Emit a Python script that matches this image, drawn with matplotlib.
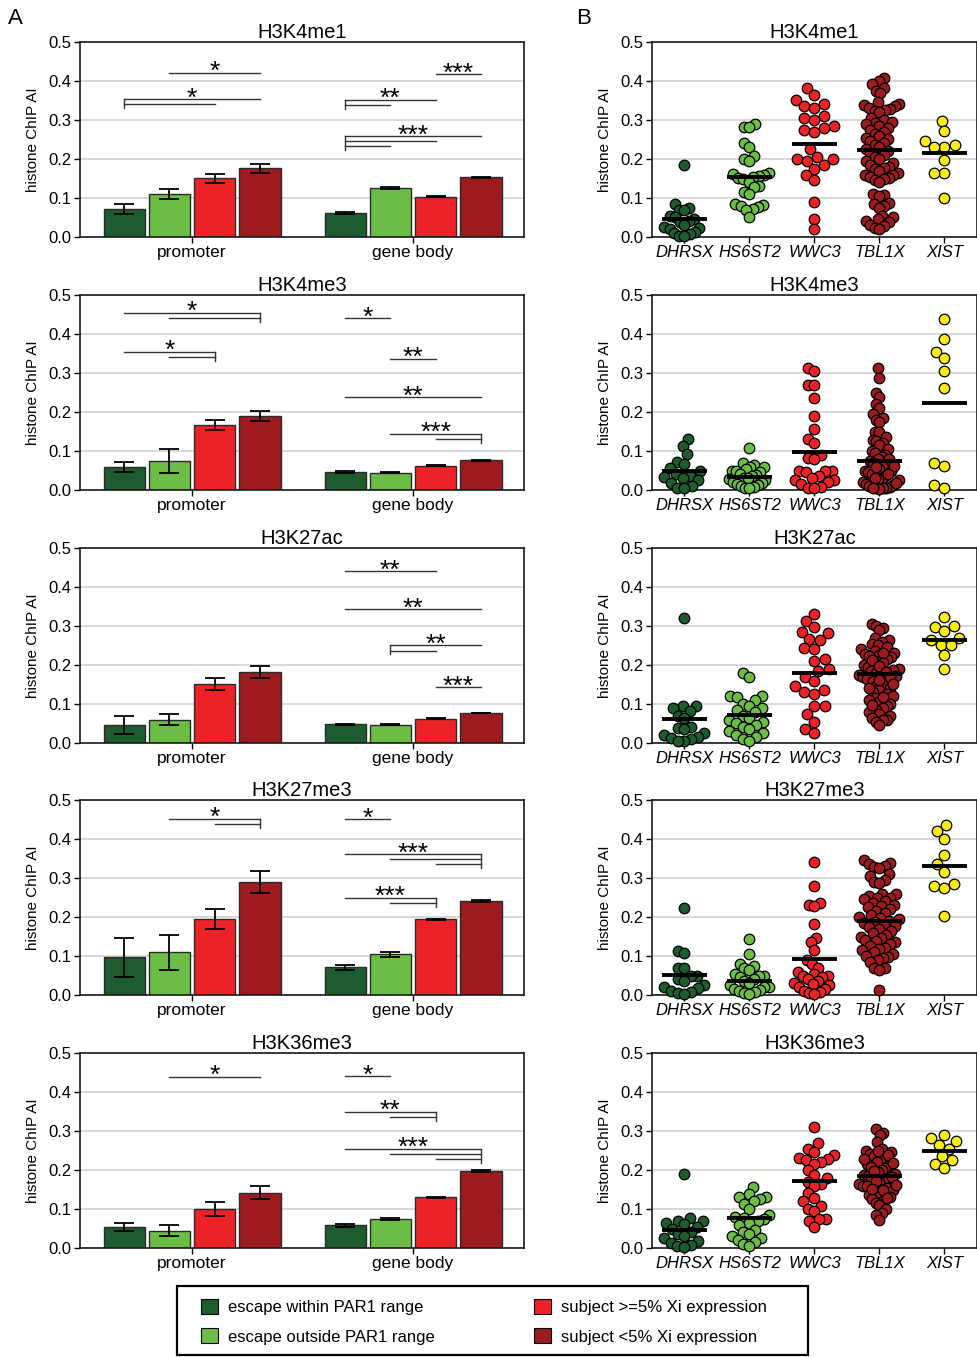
import numpy as np
import matplotlib
matplotlib.use('Agg')
import matplotlib.pyplot as plt
from matplotlib.patches import Patch, Rectangle

plt.rcParams['font.family'] = ['Liberation Sans', 'DejaVu Sans']

# ---------------- data ----------------
marks = ['H3K4me1', 'H3K4me3', 'H3K27ac', 'H3K27me3', 'H3K36me3']
regions = ['promoter', 'gene body']
classes = ['escape within PAR1 range', 'escape outside PAR1 range',
           'subject >=5% Xi expression', 'subject <5% Xi expression']
class_colors = ['#1d5c2e', '#6cbd45', '#ec2227', '#9d1b1f']

# bar heights [mark][region][class] and SEM
bar_mean = [
    [[0.072, 0.110, 0.150, 0.176], [0.061, 0.126, 0.103, 0.153]],
    [[0.058, 0.074, 0.167, 0.189], [0.046, 0.044, 0.062, 0.076]],
    [[0.046, 0.060, 0.152, 0.182], [0.048, 0.047, 0.062, 0.077]],
    [[0.097, 0.109, 0.194, 0.289], [0.071, 0.104, 0.194, 0.241]],
    [[0.054, 0.044, 0.100, 0.142], [0.058, 0.075, 0.130, 0.197]],
]
bar_sem = [
    [[0.012, 0.013, 0.011, 0.011], [0.002, 0.002, 0.001, 0.001]],
    [[0.013, 0.031, 0.013, 0.013], [0.002, 0.001, 0.001, 0.002]],
    [[0.022, 0.014, 0.015, 0.016], [0.001, 0.001, 0.001, 0.001]],
    [[0.050, 0.046, 0.026, 0.028], [0.006, 0.007, 0.002, 0.003]],
    [[0.011, 0.014, 0.017, 0.017], [0.003, 0.003, 0.002, 0.002]],
]

# significance: (region, compared class pairs, top level, joined side, stars, star position in class units)
sig = [
    [(0, [(1, 3)], 0.421, None, '*', 2),
     (0, [(0, 3), (0, 2)], 0.353, 'L', '*', 1.5),
     (1, [(2, 3)], 0.417, None, '***', 2.5),
     (1, [(0, 2), (0, 1)], 0.352, 'L', '**', 1),
     (1, [(0, 3), (0, 2), (0, 1)], 0.259, 'L', '***', 1.5)],
    [(0, [(0, 3), (1, 3)], 0.454, 'R', '*', 1.5),
     (0, [(0, 2), (1, 2)], 0.354, 'R', '*', 1),
     (1, [(0, 1)], 0.441, None, '*', 0.5),
     (1, [(1, 2)], 0.336, None, '**', 1.5),
     (1, [(0, 3)], 0.238, None, '**', 1.5),
     (1, [(1, 3), (2, 3)], 0.144, 'R', '***', 2)],
    [(1, [(0, 2)], 0.441, None, '**', 1),
     (1, [(0, 3)], 0.343, None, '**', 1.5),
     (1, [(1, 3), (1, 2)], 0.250, 'L', '**', 2),
     (1, [(2, 3)], 0.143, None, '***', 2.5)],
    [(0, [(1, 3), (2, 3)], 0.452, 'R', '*', 2),
     (1, [(0, 1)], 0.451, None, '*', 0.5),
     (1, [(0, 3), (1, 3), (2, 3)], 0.361, 'R', '***', 1.5),
     (1, [(0, 2), (1, 2)], 0.249, 'R', '***', 1)],
    [(0, [(1, 3)], 0.439, None, '*', 2),
     (1, [(0, 1)], 0.440, None, '*', 0.5),
     (1, [(0, 2), (1, 2)], 0.349, 'R', '**', 1),
     (1, [(0, 3), (1, 3), (2, 3)], 0.254, 'R', '***', 1.5)],
]

genes = ['DHRSX', 'HS6ST2', 'WWC3', 'TBL1X', 'XIST']
gene_colors = ['#1d5c2e', '#6cbd45', '#ec2227', '#9d1b1f', '#f8ec15']

dhrsx = [
    [0.184, 0.085, 0.075, 0.07, 0.068, 0.055, 0.052, 0.045, 0.04, 0.038, 0.03, 0.025, 0.022, 0.02, 0.012, 0.01, 0.008, 0.003, 0.002],
    [0.132, 0.113, 0.092, 0.071, 0.067, 0.056, 0.05, 0.04, 0.037, 0.033, 0.03, 0.025, 0.018, 0.01, 0.006, 0.004],
    [0.32, 0.095, 0.095, 0.09, 0.083, 0.07, 0.065, 0.04, 0.038, 0.035, 0.025, 0.02, 0.015, 0.012, 0.01, 0.005, 0.005],
    [0.224, 0.114, 0.107, 0.07, 0.068, 0.05, 0.048, 0.04, 0.035, 0.025, 0.02, 0.018, 0.01, 0.008, 0.005, 0.003],
    [0.19, 0.077, 0.07, 0.068, 0.065, 0.062, 0.055, 0.05, 0.04, 0.035, 0.03, 0.025, 0.018, 0.012, 0.008, 0.005, 0.003],
]
hs6st2 = [
    [0.289, 0.283, 0.282, 0.24, 0.23, 0.207, 0.20, 0.195, 0.165, 0.162, 0.158, 0.157, 0.155, 0.15, 0.148, 0.14, 0.13, 0.128, 0.115, 0.11, 0.085, 0.082, 0.08, 0.078, 0.072, 0.07, 0.05],
    [0.107, 0.07, 0.065, 0.06, 0.058, 0.055, 0.05, 0.048, 0.045, 0.04, 0.038, 0.035, 0.032, 0.03, 0.028, 0.025, 0.02, 0.018, 0.015, 0.012, 0.01, 0.008, 0.006, 0.005],
    [0.18, 0.17, 0.12, 0.12, 0.118, 0.11, 0.1, 0.095, 0.09, 0.085, 0.08, 0.07, 0.065, 0.06, 0.055, 0.05, 0.045, 0.04, 0.035, 0.03, 0.025, 0.02, 0.015, 0.01, 0.005],
    [0.143, 0.106, 0.08, 0.075, 0.07, 0.065, 0.055, 0.05, 0.048, 0.045, 0.04, 0.035, 0.03, 0.025, 0.02, 0.02, 0.015, 0.012, 0.01, 0.008, 0.005, 0.003],
    [0.157, 0.138, 0.132, 0.13, 0.125, 0.12, 0.113, 0.1, 0.085, 0.08, 0.078, 0.075, 0.07, 0.065, 0.06, 0.045, 0.04, 0.035, 0.03, 0.025, 0.02, 0.015, 0.01, 0.005],
]
wwc3 = [
    [0.382, 0.363, 0.35, 0.34, 0.335, 0.33, 0.31, 0.305, 0.30, 0.285, 0.275, 0.28, 0.27, 0.225, 0.205, 0.20, 0.20, 0.195, 0.185, 0.175, 0.16, 0.145, 0.09, 0.047, 0.02],
    [0.312, 0.305, 0.27, 0.27, 0.236, 0.19, 0.157, 0.13, 0.12, 0.09, 0.082, 0.08, 0.05, 0.05, 0.048, 0.045, 0.035, 0.03, 0.025, 0.025, 0.02, 0.015, 0.008, 0.005, 0.005],
    [0.33, 0.313, 0.297, 0.285, 0.283, 0.267, 0.265, 0.243, 0.242, 0.215, 0.21, 0.19, 0.185, 0.17, 0.16, 0.145, 0.135, 0.13, 0.125, 0.095, 0.095, 0.075, 0.055, 0.035, 0.025],
    [0.34, 0.28, 0.235, 0.23, 0.228, 0.182, 0.147, 0.137, 0.115, 0.09, 0.08, 0.07, 0.06, 0.055, 0.05, 0.048, 0.045, 0.04, 0.035, 0.03, 0.028, 0.025, 0.02, 0.015, 0.01, 0.008, 0.005, 0.003],
    [0.31, 0.268, 0.255, 0.245, 0.238, 0.23, 0.228, 0.225, 0.22, 0.215, 0.2, 0.188, 0.18, 0.17, 0.165, 0.16, 0.14, 0.128, 0.12, 0.108, 0.1, 0.095, 0.075, 0.075, 0.07, 0.055],
]
tbl1x = [
    [0.408, 0.400, 0.392, 0.381, 0.375, 0.368, 0.345, 0.342, 0.338, 0.335, 0.33, 0.328, 0.325, 0.322, 0.32,
     0.305, 0.30, 0.295, 0.292, 0.29, 0.285, 0.28, 0.275, 0.27, 0.265, 0.258, 0.255, 0.25, 0.245, 0.24,
     0.235, 0.23, 0.225, 0.22, 0.215, 0.21, 0.205, 0.20, 0.195, 0.19, 0.185, 0.18, 0.178, 0.175, 0.17,
     0.165, 0.16, 0.158, 0.155, 0.15, 0.148, 0.145, 0.14, 0.11, 0.108, 0.105, 0.088, 0.085, 0.08, 0.075,
     0.055, 0.05, 0.045, 0.042, 0.038, 0.03, 0.028, 0.022, 0.02],
    [0.312, 0.288, 0.248, 0.238, 0.22, 0.21, 0.195, 0.185, 0.18, 0.175, 0.15, 0.148, 0.135, 0.128, 0.125,
     0.12, 0.115, 0.105, 0.1, 0.095, 0.09, 0.085, 0.08, 0.08, 0.075, 0.07, 0.065, 0.06, 0.055, 0.05, 0.05,
     0.045, 0.04, 0.035, 0.03, 0.028, 0.025, 0.02, 0.015, 0.012, 0.01, 0.008, 0.005, 0.005, 0.004, 0.003,
     0.062, 0.058, 0.042, 0.032, 0.018, 0.006],
    [0.305, 0.3, 0.295, 0.29, 0.27, 0.265, 0.26, 0.255, 0.25, 0.245, 0.24, 0.235, 0.23, 0.225, 0.22, 0.215,
     0.21, 0.2, 0.195, 0.19, 0.185, 0.18, 0.178, 0.175, 0.17, 0.165, 0.16, 0.155, 0.15, 0.145, 0.14, 0.135,
     0.13, 0.125, 0.12, 0.115, 0.11, 0.105, 0.1, 0.095, 0.09, 0.085, 0.08, 0.075, 0.07, 0.065, 0.06, 0.058,
     0.055, 0.045, 0.232, 0.228, 0.222, 0.212, 0.205, 0.198, 0.188, 0.182, 0.172, 0.168, 0.162, 0.152,
     0.142, 0.118, 0.098],
    [0.345, 0.338, 0.335, 0.33, 0.328, 0.325, 0.31, 0.305, 0.295, 0.29, 0.288, 0.26, 0.258, 0.255, 0.25,
     0.248, 0.245, 0.24, 0.235, 0.232, 0.228, 0.225, 0.22, 0.215, 0.21, 0.205, 0.2, 0.198, 0.195, 0.19,
     0.188, 0.185, 0.18, 0.178, 0.175, 0.17, 0.165, 0.16, 0.155, 0.15, 0.145, 0.14, 0.138, 0.135, 0.13,
     0.125, 0.12, 0.118, 0.115, 0.11, 0.105, 0.1, 0.098, 0.095, 0.09, 0.085, 0.07, 0.068, 0.065, 0.012],
    [0.305, 0.295, 0.29, 0.272, 0.255, 0.25, 0.245, 0.24, 0.235, 0.232, 0.225, 0.22, 0.215, 0.21, 0.205,
     0.2, 0.195, 0.19, 0.188, 0.185, 0.18, 0.178, 0.175, 0.17, 0.165, 0.16, 0.158, 0.155, 0.15, 0.145,
     0.14, 0.135, 0.13, 0.125, 0.12, 0.115, 0.11, 0.1, 0.09, 0.085, 0.072, 0.248, 0.238, 0.228, 0.218,
     0.208, 0.198, 0.182, 0.172, 0.162, 0.152, 0.148, 0.128],
]
xist = [
    [0.298, 0.272, 0.245, 0.235, 0.23, 0.23, 0.198, 0.165, 0.165, 0.10],
    [0.438, 0.388, 0.355, 0.338, 0.305, 0.262, 0.068, 0.062, 0.014, 0.006],
    [0.322, 0.3, 0.298, 0.288, 0.268, 0.263, 0.25, 0.25, 0.225, 0.19],
    [0.435, 0.42, 0.4, 0.358, 0.335, 0.315, 0.285, 0.28, 0.275, 0.203],
    [0.29, 0.283, 0.275, 0.265, 0.255, 0.235, 0.225, 0.215, 0.205],
]
# mean lines shown in panel B [mark][gene]
gene_means = [
    [0.046, 0.154, 0.239, 0.222, 0.215],
    [0.048, 0.034, 0.098, 0.074, 0.222],
    [0.062, 0.071, 0.180, 0.178, 0.265],
    [0.051, 0.036, 0.093, 0.189, 0.330],
    [0.047, 0.078, 0.173, 0.184, 0.248],
]

# ---------------- layout ----------------
W, H = 978, 1357
fig = plt.figure(figsize=(W / 100, H / 100), dpi=100)


def px_axes(x0, y0, x1, y1):
    return fig.add_axes([x0 / W, 1 - y1 / H, (x1 - x0) / W, (y1 - y0) / H])


def swarm(vals, sx, sy, d, maxw):
    # beeswarm in pixel space, then squeezed sideways if it gets too wide
    vals = np.asarray(vals)
    xs = np.zeros(len(vals))
    placed = []
    for idx in np.argsort(vals):
        y = vals[idx] * sy
        near = [(px, py) for px, py in placed if abs(py - y) < d]
        cands = [0.0]
        for px, py in near:
            dx = np.sqrt(d ** 2 - (py - y) ** 2)
            cands += [px - dx, px + dx]
        cands.sort(key=lambda v: (abs(v), v))
        best = cands[0]
        for c in cands:
            if all((c - px) ** 2 + (y - py) ** 2 >= d ** 2 - 1e-6 for px, py in near):
                best = c
                break
        placed.append((best, y))
        xs[idx] = best
    wid = np.abs(xs).max()
    if wid > maxw:
        xs = xs * maxw / wid
    return xs / sx


def style(ax):
    ax.set_ylim(0, 0.5)
    ax.set_yticks(np.arange(0, 0.51, 0.1))
    ax.set_yticklabels(['%.1f' % v for v in np.arange(0, 0.51, 0.1)])
    ax.set_axisbelow(True)
    ax.yaxis.grid(True, color='#d2d2d2', lw=1.2)
    for s in ax.spines.values():
        s.set_color('#1a1a1a')
        s.set_linewidth(1.2)
    ax.tick_params(axis='both', direction='out', length=4, width=1, labelsize=12, pad=2)
    ax.set_ylabel('histone ChIP AI', fontsize=11, labelpad=6)


tops = [42, 295, 548, 800, 1053]
step = 0.205
off = (np.arange(4) - 1.5) * step
all_genes = [dhrsx, hs6st2, wwc3, tbl1x, xist]

for r, mark in enumerate(marks):
    t = tops[r]
    # ---- panel A: bars ----
    ax = px_axes(80, t, 524, t + 195)
    style(ax)
    for g in range(2):
        for k in range(4):
            ax.bar(g + off[k], bar_mean[r][g][k], 0.186, color=class_colors[k],
                   edgecolor='#2a2a2a', lw=1, zorder=2,
                   yerr=bar_sem[r][g][k], capsize=7,
                   error_kw=dict(ecolor='black', elinewidth=1.3, capthick=1.3, zorder=3))
    for g, pairs, top, side, stars, sxp in sig[r]:
        ys = top - 0.013 * np.arange(len(pairs))
        for (i, j), y in zip(pairs, ys):
            ax.plot([g + off[i], g + off[j]], [y, y], color='#333333', lw=1, zorder=3)
        if side:
            xv = g + off[pairs[0][0]] if side == 'L' else g + off[pairs[0][1]]
            ax.plot([xv, xv], [top, ys[-1] - 0.01], color='#333333', lw=1, zorder=3)
        ax.annotate(stars, (g + (sxp - 1.5) * step, top), xytext=(0, -4.6),
                    textcoords='offset points', ha='center', va='baseline', fontsize=19)
    ax.set_xlim(-0.507, 1.502)
    ax.set_xticks([0, 1])
    ax.set_xticklabels(regions, fontsize=12.5)
    ax.set_title(mark, fontsize=14.5, pad=1)

    # ---- panel B: per-gene scatter ----
    bx = px_axes(652, t, 977, t + 195)
    style(bx)
    for c in range(5):
        vals = all_genes[c][r]
        xs = c + swarm(vals, 65.0, 390.0, 10.5, 20.0)
        bx.scatter(xs, vals, s=58, color=gene_colors[c], edgecolors='black',
                   linewidths=0.9, zorder=3, clip_on=False)
        bx.plot([c - 0.35, c + 0.35], [gene_means[r][c]] * 2, color='black',
                lw=2.8, zorder=4, solid_capstyle='butt')
    bx.set_xlim(-0.5, 4.5)
    bx.set_xticks(range(5))
    bx.set_xticklabels(genes, fontsize=12, style='italic')
    bx.set_title(mark, fontsize=14.5, pad=1)

fig.text(8 / W, 1 - 18 / H, 'A', fontsize=16, va='center')
fig.text(576 / W, 1 - 18 / H, 'B', fontsize=16, va='center')

# legend box
fig.patches.append(Rectangle((177 / W, 1 - 1355 / H), 631 / W, 69 / H,
                             transform=fig.transFigure, fill=False,
                             edgecolor='black', lw=1.6))
handles = [Patch(facecolor=col, edgecolor='black', lw=0.8, label=lab)
           for col, lab in zip(class_colors, classes)]
fig.legend(handles=handles, ncol=2, loc='upper left',
           bbox_to_anchor=(201 / W, 1 - 1299 / H), frameon=False,
           fontsize=12, handlelength=1.0, handleheight=1.0, handletextpad=0.6,
           labelspacing=0.8, columnspacing=6.0, borderpad=0, borderaxespad=0)

fig.savefig('out.png', dpi=100)
